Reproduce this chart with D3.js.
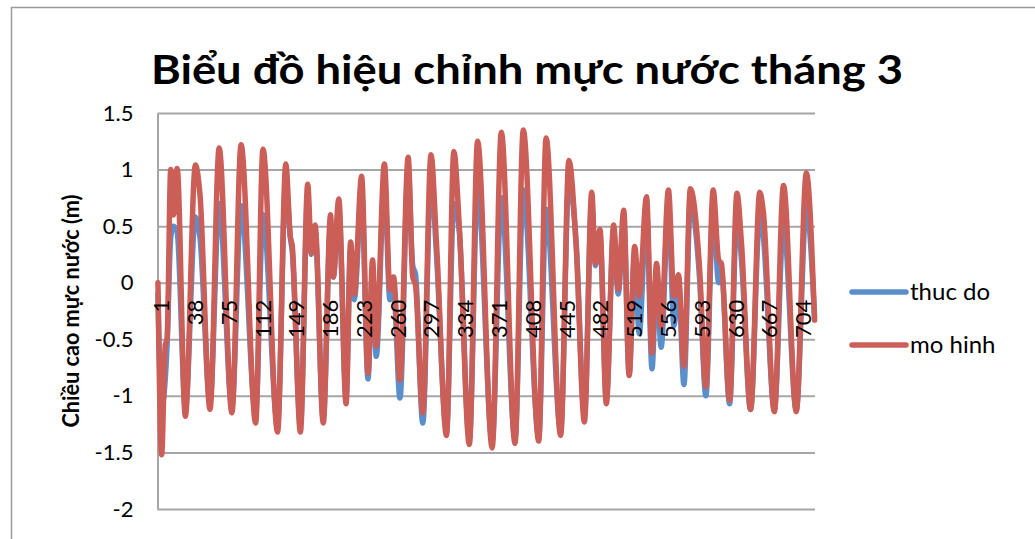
<!DOCTYPE html>
<html>
<head>
<meta charset="utf-8">
<script src="https://cdn.jsdelivr.net/npm/d3@7"></script>
<style>
    body { margin: 0; background: #fff; }
    svg { display: block; font-family: Lato, "Open Sans", sans-serif; }
</style>
</head>
<body>
<svg id="chart" width="1035" height="539"></svg>
<script>
// chart texts
const title = "Biểu đồ hiệu chỉnh mực nước tháng 3";
const yTitle = "Chiều cao mực nước (m)";
const seriesNames = ["thuc do", "mo hinh"];

// hourly categories and the labels excel shows on the axis
const categories = d3.range(1, 721);
const xTickLabels = [1, 38, 75, 112, 149, 186, 223, 260, 297, 334, 371, 408, 445, 482, 519, 556, 593, 630, 667, 704];
const yTicks = [-2, -1.5, -1, -0.5, 0, 0.5, 1, 1.5];

// turning points (hour, value in m)
const tpHour = [1, 5, 9, 11, 15, 18, 22, 31, 42, 47, 58, 68, 82, 92, 108, 116, 132, 141, 146, 148,
    157, 165, 169, 173, 182, 190, 193, 199, 207, 212, 216, 224, 231, 236, 240, 249, 255, 259, 266, 275,
    280, 283, 291, 300, 306, 317, 325, 331, 342, 351, 367, 377, 392, 401, 418, 426, 442, 451, 459, 468,
    476, 480, 485, 492, 500, 505, 511, 517, 523, 528, 536, 542, 547, 552, 560, 566, 571, 577, 584, 594,
    601, 609, 615, 618, 627, 635, 640, 650, 660, 664, 676, 686, 700, 711, 720];
const thucDo = [-0.10, -1.10, -0.85, -0.55, 0.40, 0.50, 0.45, -1.10, 0.58, 0.40, -1.05, 0.70, -1.10, 0.68, -1.15, 0.60, -1.25, 0.90, 0.40, 0.28,
    -1.25, 0.75, 0.25, 0.45, -1.20, 0.50, 0.05, 0.65, -1.00, 0.30, -0.15, 0.80, -0.85, 0.10, -0.65, 0.90, -0.15, -0.05, -1.02, 1.00,
    0.15, 0.08, -1.24, 0.95, 0.25, -1.30, 0.70, 0.45, -1.38, 0.85, -1.40, 0.75, -1.38, 0.82, -1.35, 0.65, -1.30, 0.90, 0.35, -1.18,
    0.70, 0.15, 0.40, -1.02, 0.45, -0.10, 0.55, -0.80, 0.25, -0.45, 0.65, -0.76, 0.10, -0.57, 0.70, -0.38, 0.00, -0.90, 0.70, 0.05,
    -1.00, 0.65, 0.00, 0.10, -1.07, 0.60, 0.20, -1.12, 0.60, 0.40, -1.12, 0.52, -1.12, 0.67, -0.30];
const moHinh = [0.00, -1.52, -0.55, -0.50, 1.00, 0.60, 1.01, -1.18, 1.04, 0.78, -1.12, 1.19, -1.15, 1.22, -1.24, 1.18, -1.32, 1.05, 0.40, 0.33,
    -1.32, 0.87, 0.26, 0.51, -1.24, 0.60, 0.05, 0.74, -1.07, 0.36, -0.10, 0.94, -0.80, 0.20, -0.56, 1.05, -0.06, 0.05, -0.86, 1.11,
    0.05, -0.02, -1.15, 1.13, 0.35, -1.35, 1.16, 0.50, -1.43, 1.25, -1.46, 1.33, -1.42, 1.35, -1.40, 1.28, -1.35, 1.08, 0.32, -1.23,
    0.80, 0.17, 0.47, -1.07, 0.51, -0.06, 0.64, -0.82, 0.32, -0.12, 0.76, -0.62, 0.17, -0.39, 0.82, -0.12, 0.07, -0.74, 0.83, 0.14,
    -0.92, 0.82, 0.20, 0.17, -1.04, 0.79, 0.35, -1.12, 0.80, 0.62, -1.14, 0.86, -1.14, 0.97, -0.33];

const colors = ["#5B8FCC", "#CB5F58"];
const plot = {left: 157.5, right: 815, top: 113, bottom: 509};
const gridColor = "#a6a6a6";
const font = "Lato, 'Open Sans', sans-serif";

const svg = d3.select("#chart");

// outer chart frame
svg.append("rect")
    .attr("x", 11.5).attr("y", 7.5)
    .attr("width", 1040).attr("height", 545)
    .attr("fill", "#fff")
    .attr("stroke", "#9a9a9a").attr("stroke-width", 1.5);

const x = d3.scalePoint().domain(categories).range([plot.left, plot.right]).padding(0.5);
const y = d3.scaleLinear().domain([-2, 1.5]).range([plot.bottom, plot.top]);

// value axis + gridlines
const yAxis = svg.append("g")
    .attr("transform", `translate(${plot.left},0)`)
    .call(d3.axisLeft(y).tickValues(yTicks)
        .tickSize(-(plot.right - plot.left)).tickSizeOuter(0)
        .tickPadding(24).tickFormat(d => String(d)));
yAxis.select(".domain").attr("stroke", gridColor).attr("stroke-width", 2);
yAxis.selectAll(".tick line").attr("stroke", gridColor).attr("stroke-width", 2);
yAxis.selectAll(".tick text")
    .attr("font-size", 22).attr("fill", "#000")
    .style("font-family", font);

// series lines
const series = [thucDo, moHinh].map((vals, i) => ({
    name: seriesNames[i],
    color: colors[i],
    points: tpHour.map((h, j) => ({h, v: vals[j]}))
}));
const line = d3.line()
    .x(d => x(d.h))
    .y(d => y(d.v))
    .curve(d3.curveMonotoneX);
svg.append("g").selectAll("path")
    .data(series)
    .join("path")
    .attr("d", d => line(d.points))
    .attr("fill", "none")
    .attr("stroke", d => d.color)
    .attr("stroke-width", 5.5)
    .attr("stroke-linejoin", "round")
    .attr("stroke-linecap", "round");

// category axis crossing at 0, labels sit over the lines like excel
const xAxis = svg.append("g")
    .attr("transform", `translate(0,${y(0)})`)
    .call(d3.axisBottom(x).tickValues(xTickLabels).tickSize(0).tickSizeOuter(0));
xAxis.select(".domain").attr("stroke", "none");
xAxis.selectAll(".tick text")
    .attr("transform", "rotate(-90)")
    .attr("text-anchor", "end")
    .attr("x", -17).attr("y", 3).attr("dy", "0.35em")
    .attr("font-size", 22).attr("fill", "#000")
    .style("font-family", font);

// title
svg.append("text")
    .attr("x", 527).attr("y", 84)
    .attr("text-anchor", "middle")
    .attr("font-size", 41).attr("font-weight", "bold")
    .attr("textLength", 752).attr("lengthAdjust", "spacingAndGlyphs")
    .text(title);

// y axis title
svg.append("text")
    .attr("transform", `translate(79,${(plot.top + plot.bottom) / 2}) rotate(-90)`)
    .attr("text-anchor", "middle")
    .attr("font-size", 22).attr("font-weight", "bold")
    .attr("textLength", 233).attr("lengthAdjust", "spacingAndGlyphs")
    .text(yTitle);

// legend
const legend = svg.append("g").selectAll("g")
    .data(series)
    .join("g")
    .attr("transform", (d, i) => `translate(852,${292 + i * 53})`);
legend.append("line")
    .attr("x1", 0).attr("x2", 54)
    .attr("stroke", d => d.color)
    .attr("stroke-width", 5.5)
    .attr("stroke-linecap", "round");
legend.append("text")
    .attr("x", 58).attr("dy", "0.35em")
    .attr("font-size", 24)
    .text(d => d.name);
</script>
</body>
</html>
